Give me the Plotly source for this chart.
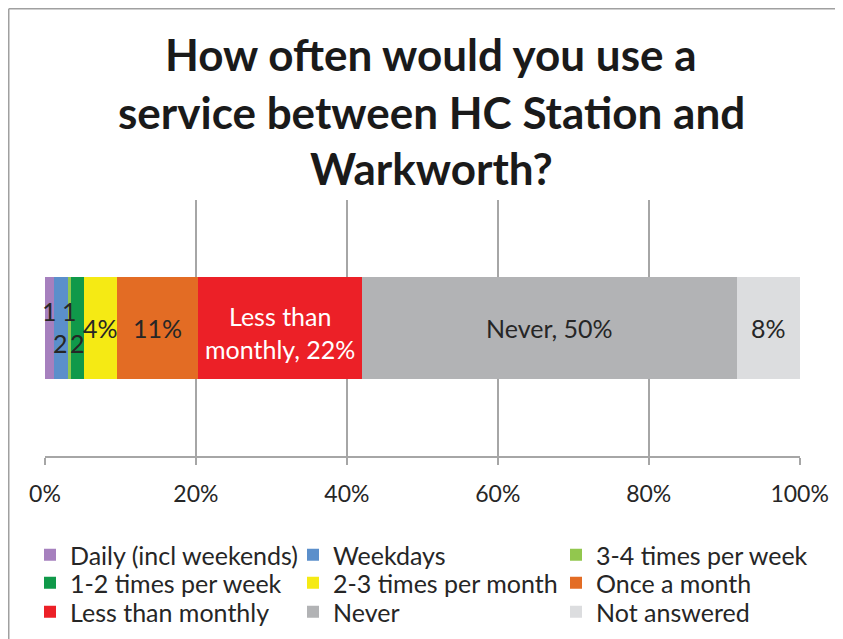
import plotly.graph_objects as go
import numpy as np

# ---- data ----
categories = ["Daily (incl weekends)", "Weekdays", "3-4 times per week",
              "1-2 times per week", "2-3 times per month", "Once a month",
              "Less than monthly", "Never", "Not answered"]
values = [1.2, 1.8, 0.4, 1.8, 4.4, 10.7, 21.7, 49.7, 8.4]
labels = ["1", "2", "1", "2", "4%", "11%", "Less than<br>monthly, 22%", "Never, 50%", "8%"]
tick_vals = [0, 20, 40, 60, 80, 100]
tick_text = ["0%", "20%", "40%", "60%", "80%", "100%"]
title_lines = ["How often would you use a", "service between HC Station and", "Warkworth?"]

# ---- style ----
colors = ["#A680BE", "#5B8FCB", "#92C74E", "#10994A", "#F5EA14",
          "#E36C24", "#EC2027", "#B2B3B5", "#DCDDDF"]
label_colors = ["#262626"] * 6 + ["#FFFFFF"] + ["#262626"] * 2
label_shift = [17, -15, 17, -15, 0, 0, -4, 0, 0]
legend_of = ["legend", "legend", "legend", "legend2", "legend2", "legend2",
             "legend3", "legend3", "legend3"]
FONT = "Lato, Carlito, Calibri, sans-serif"
GRID = "#A6A6A6"


def px_x(px):
    return (px - 45) / 755


def px_y(py):
    return (456 - py) / 256


fig = go.Figure()
for cat, v, c, lg in zip(categories, values, colors, legend_of):
    fig.add_trace(go.Bar(
        x=[v], y=[""], orientation="h", name=cat,
        marker=dict(color=c, line=dict(width=0)),
        width=0.395, legend=lg, hoverinfo="name+x",
    ))

cum = np.cumsum([0] + values)
for i, (lab, col) in enumerate(zip(labels, label_colors)):
    mid = (cum[i] + cum[i + 1]) / 2
    fig.add_annotation(x=mid, y=0, xref="x", yref="y", text=lab, showarrow=False,
                       font=dict(family=FONT, size=25, color=col),
                       yshift=label_shift[i], align="center")

# title lines
title_y = [54, 112, 168]
for line, py in zip(title_lines, title_y):
    fig.add_annotation(x=px_x(431), y=px_y(py), xref="paper", yref="paper",
                       text="<b>" + line + "</b>", showarrow=False,
                       font=dict(family=FONT, size=44, color="#1A1A1A"),
                       xanchor="center", yanchor="middle")

# chart border: only top & left edges are visible in the reference
fig.add_shape(type="line", xref="paper", yref="paper",
              x0=px_x(8.75), x1=px_x(843), y0=px_y(8.75), y1=px_y(8.75),
              line=dict(color="#A0A0A0", width=1.5), layer="below")
fig.add_shape(type="line", xref="paper", yref="paper",
              x0=px_x(8.75), x1=px_x(8.75), y0=px_y(8.75), y1=px_y(639),
              line=dict(color="#A0A0A0", width=1.5), layer="below")

legend_common = dict(orientation="h", font=dict(family=FONT, size=25, color="#262626"),
                     bgcolor="rgba(0,0,0,0)", yanchor="middle", xanchor="left",
                     traceorder="normal", itemclick=False,
                     entrywidth=218, entrywidthmode="pixels")
fig.update_layout(
    width=835, height=631,
    margin=dict(l=37, r=43, t=192, b=183, autoexpand=False),
    paper_bgcolor="white", plot_bgcolor="white",
    barmode="stack", bargap=0,
    showlegend=True,
    legend=dict(x=px_x(30), y=px_y(555), **legend_common),
    legend2=dict(x=px_x(30), y=px_y(583), **legend_common),
    legend3=dict(x=px_x(30), y=px_y(612), **legend_common),
    xaxis=dict(range=[0, 100.05], tickvals=tick_vals, ticktext=tick_text,
               showgrid=True, gridcolor=GRID, gridwidth=1.5, zeroline=False,
               showline=True, linecolor=GRID, linewidth=1.5,
               ticks="outside", ticklen=7, tickcolor=GRID, tickwidth=1.5,
               ticklabelstandoff=10,
               tickfont=dict(family=FONT, size=23, color="#262626"), fixedrange=True),
    yaxis=dict(showticklabels=False, showgrid=False, zeroline=False, range=[-0.5, 0.5],
               fixedrange=True),
)

fig.write_html("out.html")
